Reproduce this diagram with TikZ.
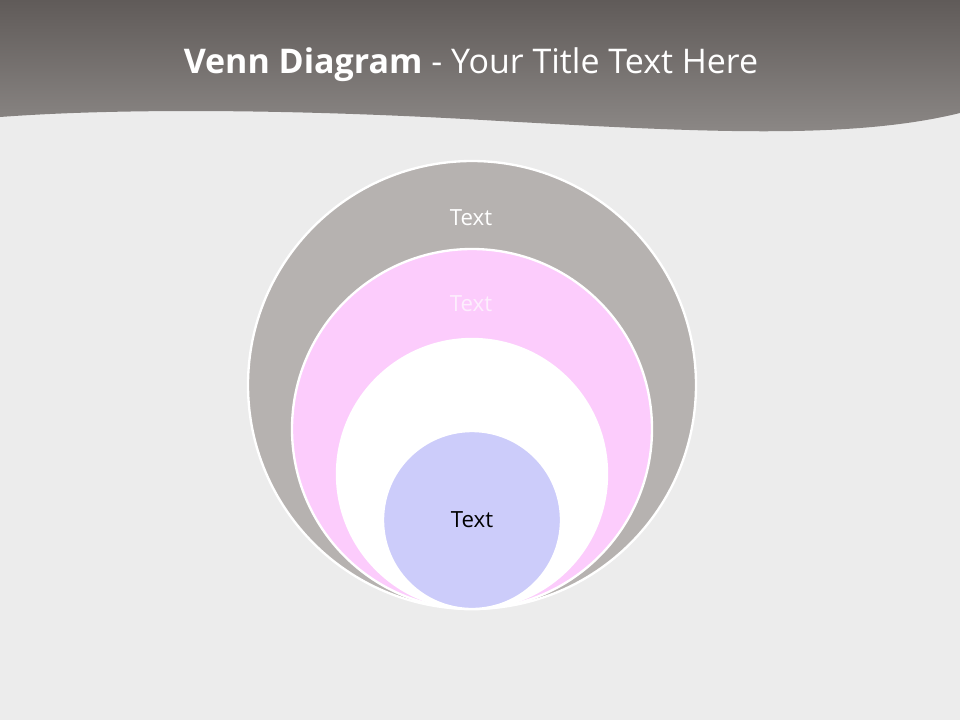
\documentclass[tikz,border=0pt]{standalone}
\usepackage{fontspec}
\setmainfont{Open Sans}
\usepackage{tikz}
\usetikzlibrary{shapes.geometric,calc}
\definecolor{PageBg} {RGB}{236,236,236}
\definecolor{HdrTop} {RGB}{96,91,89}
\definecolor{HdrBot} {RGB}{142,138,136}
\definecolor{RingOut}{RGB}{182,178,176}
\definecolor{RingPnk}{RGB}{252,204,252}
\definecolor{RingBlu}{RGB}{204,204,250}
\definecolor{TxtPnk} {RGB}{252,238,252}
\tikzset{
  nd_ring/.style={circle,draw=white,line width=2pt,inner sep=0pt},
  nd_lbl/.style={font=\fontsize{19}{22}\selectfont},
}
\begin{document}
\begin{tikzpicture}[x=0.03cm,y=-0.03cm]
\useasboundingbox (0,0) rectangle (960,720);
\fill[PageBg](0,0) rectangle (960,720);
% header band
\shade[top color=HdrTop,bottom color=HdrBot]
  (0,0) -- (960,0) -- (960,113)
  .. controls (850,140) and (700,132) .. (500,121)
  .. controls (300,109) and (120,108) .. (0,117) -- cycle;
\node[font=\fontsize{29}{34}\selectfont,text=white] at (471,65)(T)
  {\textbf{Venn Diagram} - Your Title Text Here};
% rings
\node[nd_ring,fill=RingOut,minimum size=448*0.03cm] at (472,385)(R1){};
\node[nd_ring,fill=RingPnk,minimum size=360*0.03cm] at (472,429)(R2){};
\node[nd_ring,fill=white,minimum size=270*0.03cm]   at (472,474)(R3){};
\node[nd_ring,fill=RingBlu,minimum size=178*0.03cm] at (472,520)(R4){};
% labels
\node[nd_lbl,text=white]  at (471,218)(L1){Text};
\node[nd_lbl,text=TxtPnk] at (471,304)(L2){Text};
\node[nd_lbl,text=black]  at (472,520)(L4){Text};
\end{tikzpicture}
\end{document}
